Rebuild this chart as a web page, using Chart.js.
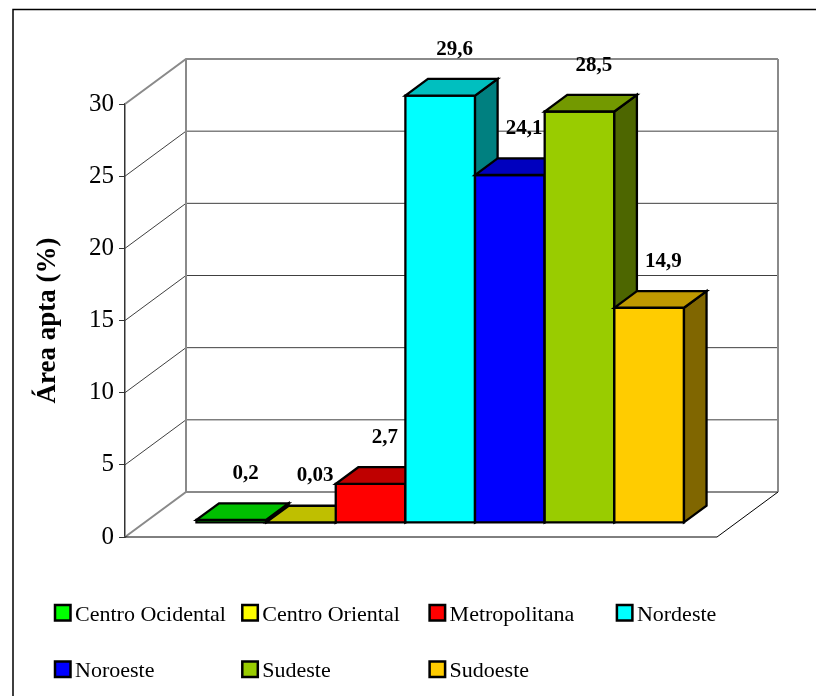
<!DOCTYPE html>
<html lang="pt">
<head>
<meta charset="utf-8">
<title>Área apta por mesorregião</title>
<script src="https://cdn.jsdelivr.net/npm/chart.js@4/dist/chart.umd.min.js"></script>
<style>
  html, body { margin: 0; padding: 0; background: #fff; }
  canvas { display: block; }
</style>
</head>
<body>
<canvas id="chart" width="816" height="696"></canvas>
<script>
// Mesorregiões e percentual de área apta
const regions = ['Centro Ocidental', 'Centro Oriental', 'Metropolitana', 'Nordeste', 'Noroeste', 'Sudeste', 'Sudoeste'];
const aptArea = [0.2, 0.03, 2.7, 29.6, 24.1, 28.5, 14.9];
const yTicks = [0, 5, 10, 15, 20, 25, 30];
const regionColors = ['#00FF00', '#FFFF00', '#FF0000', '#00FFFF', '#0000FF', '#99CC00', '#FFCC00'];

const SERIF = "'Liberation Serif', 'Times New Roman', serif";

// oblique projection of the box: full depth of the floor and the slab the bars occupy
const DEPTH = { x: 61, y: -45 };
const BAR_FRONT = 0.315;
const BAR_BACK = 0.685;

const fmt = v => String(v).replace('.', ',');

function shade(hex, f) {
  const n = parseInt(hex.slice(1), 16);
  const r = Math.round(((n >> 16) & 255) * f);
  const g = Math.round(((n >> 8) & 255) * f);
  const b = Math.round((n & 255) * f);
  return `rgb(${r},${g},${b})`;
}

function face(ctx, pts, fill) {
  ctx.beginPath();
  ctx.moveTo(pts[0][0], pts[0][1]);
  for (let k = 1; k < pts.length; k++) ctx.lineTo(pts[k][0], pts[k][1]);
  ctx.closePath();
  ctx.fillStyle = fill;
  ctx.fill();
  ctx.stroke();
}

// outer frame of the figure
const framePlugin = {
  id: 'frame',
  beforeDraw(chart) {
    const { ctx, width, height } = chart;
    ctx.save();
    ctx.fillStyle = '#fff';
    ctx.fillRect(0, 0, width, height);
    ctx.strokeStyle = '#000';
    ctx.lineWidth = 1.5;
    ctx.beginPath();
    ctx.moveTo(13, height + 2);
    ctx.lineTo(13, 9.5);
    ctx.lineTo(width + 2, 9.5);
    ctx.stroke();
    ctx.restore();
  }
};

// walls, floor and 3-D bars
const box3dPlugin = {
  id: 'box3d',
  beforeDatasetsDraw(chart) {
    const { ctx, chartArea: a, scales: { y } } = chart;
    const L = a.left, R = a.right;
    ctx.save();
    yTicks.forEach((v, i) => {
      const py = y.getPixelForValue(v);
      const edge = i === 0 || i === yTicks.length - 1;
      ctx.strokeStyle = edge ? '#8a8a8a' : '#404040';
      ctx.lineWidth = edge ? 2 : 1;
      ctx.beginPath();
      ctx.moveTo(L, py);
      ctx.lineTo(L + DEPTH.x, py + DEPTH.y);
      ctx.lineTo(R + DEPTH.x, py + DEPTH.y);
      ctx.stroke();
    });
    const top = y.getPixelForValue(yTicks[yTicks.length - 1]) + DEPTH.y;
    const bot = y.getPixelForValue(yTicks[0]) + DEPTH.y;
    ctx.strokeStyle = '#8a8a8a';
    ctx.lineWidth = 2;
    [L, R].forEach(x => {
      ctx.beginPath();
      ctx.moveTo(x + DEPTH.x, top);
      ctx.lineTo(x + DEPTH.x, bot);
      ctx.stroke();
    });
    const y0 = y.getPixelForValue(yTicks[0]);
    ctx.strokeStyle = '#000';
    ctx.lineWidth = 1;
    ctx.beginPath();
    ctx.moveTo(L, y0);
    ctx.lineTo(R, y0);
    ctx.lineTo(R + DEPTH.x, y0 + DEPTH.y);
    ctx.stroke();
    ctx.restore();
  },
  beforeDatasetDraw() {
    return false;
  },
  afterDatasetsDraw(chart) {
    const { ctx } = chart;
    const fx = DEPTH.x * BAR_FRONT, fy = DEPTH.y * BAR_FRONT;
    const dx = DEPTH.x * (BAR_BACK - BAR_FRONT), dy = DEPTH.y * (BAR_BACK - BAR_FRONT);
    ctx.save();
    ctx.strokeStyle = '#000';
    ctx.lineWidth = 2.3;
    ctx.lineJoin = 'miter';
    const tops = [];
    chart.data.datasets.forEach((ds, i) => {
      const el = chart.getDatasetMeta(i).data[0];
      const { x, y, base, width } = el.getProps(['x', 'y', 'base', 'width'], true);
      const l = x - width / 2 + fx, r = x + width / 2 + fx;
      const t = y + fy, b = base + fy;
      const col = ds.backgroundColor;
      face(ctx, [[l, t], [r, t], [r, b], [l, b]], col);
      face(ctx, [[r, t], [r + dx, t + dy], [r + dx, b + dy], [r, b]], shade(col, 0.5));
      face(ctx, [[l, t], [r, t], [r + dx, t + dy], [l + dx, t + dy]], shade(col, 0.75));
      tops.push({ x: x + fx + dx / 2, y: t + dy / 2, v: ds.data[0] });
    });
    ctx.fillStyle = '#000';
    ctx.font = `bold 21px ${SERIF}`;
    ctx.textAlign = 'center';
    ctx.textBaseline = 'middle';
    tops.forEach(p => ctx.fillText(fmt(p.v), p.x + 3, p.y - 38));
    ctx.restore();
  }
};

// legend laid out on a fixed column grid
const gridLegendPlugin = {
  id: 'gridLegend',
  afterDraw(chart) {
    const { ctx } = chart;
    const perRow = 4, x0 = 55, colW = 187.3, rowBase = [620.5, 677], box = 15.5;
    ctx.save();
    ctx.font = `22px ${SERIF}`;
    ctx.textAlign = 'left';
    ctx.textBaseline = 'alphabetic';
    chart.data.datasets.forEach((ds, i) => {
      const bx = x0 + (i % perRow) * colW;
      const base = rowBase[Math.floor(i / perRow)];
      ctx.fillStyle = ds.backgroundColor;
      ctx.fillRect(bx, base - box, box, box);
      ctx.strokeStyle = '#000';
      ctx.lineWidth = 2.5;
      ctx.strokeRect(bx, base - box, box, box);
      ctx.fillStyle = '#000';
      ctx.fillText(ds.label, bx + 20, base);
    });
    ctx.restore();
  }
};

new Chart(document.getElementById('chart'), {
  type: 'bar',
  data: {
    labels: [''],
    datasets: regions.map((name, i) => ({
      label: name,
      data: [aptArea[i]],
      backgroundColor: regionColors[i]
    }))
  },
  options: {
    responsive: false,
    animation: false,
    layout: { padding: { left: 14, top: 104, right: 99, bottom: 159 } },
    datasets: { bar: { categoryPercentage: 7 / 8.5, barPercentage: 1 } },
    plugins: { legend: { display: false }, tooltip: { enabled: false } },
    scales: {
      x: { display: false },
      y: {
        min: yTicks[0],
        max: yTicks[yTicks.length - 1],
        ticks: {
          stepSize: yTicks[1] - yTicks[0],
          color: '#000',
          padding: 5,
          font: { family: SERIF, size: 25 }
        },
        grid: { drawOnChartArea: false, tickLength: 6, color: '#333', lineWidth: 1 },
        border: { color: '#333', width: 1.5 },
        title: {
          display: true,
          text: 'Área apta (%)',
          color: '#000',
          font: { family: SERIF, size: 27, weight: 'bold', lineHeight: 1 },
          padding: { top: 21, bottom: 0 }
        },
        afterFit(scale) { scale.width = 111; }
      }
    }
  },
  plugins: [framePlugin, box3dPlugin, gridLegendPlugin]
});
</script>
</body>
</html>
